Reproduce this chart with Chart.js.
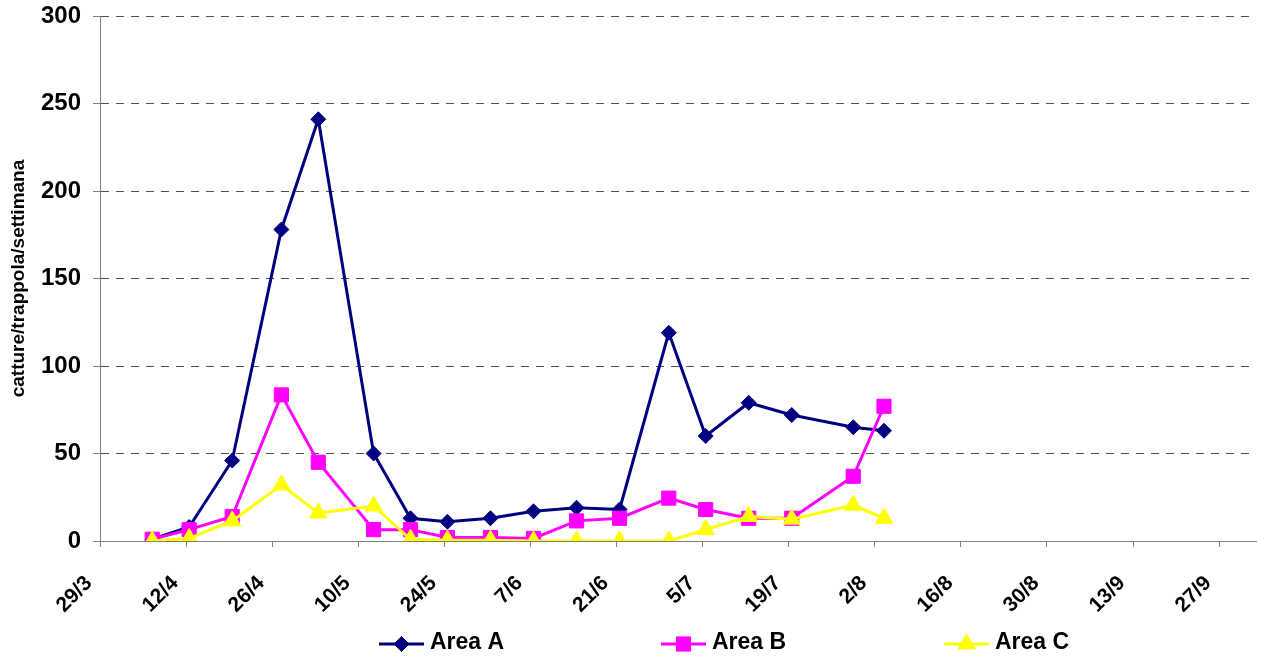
<!DOCTYPE html>
<html>
<head>
<meta charset="utf-8">
<script src="https://cdn.jsdelivr.net/npm/chart.js@4.4.1/dist/chart.umd.min.js"></script>
<style>
  html, body { margin: 0; padding: 0; background: #fff; }
</style>
</head>
<body>
<canvas id="chart" width="1267" height="659"></canvas>
<script>
// ------------------------------------------------------------------
// Dati (catture per trappola per settimana)
// ------------------------------------------------------------------
const START_DATE = '29/3';          // origine dell'asse x
const AXIS_DAYS  = 188;             // estensione dell'asse (giorni)
const TICK_STEP  = 14;              // un'etichetta ogni due settimane

const dates = ['6/4', '12/4', '19/4', '27/4', '3/5', '12/5', '18/5', '24/5', '31/5',
               '7/6', '14/6', '21/6', '29/6', '5/7', '12/7', '19/7', '29/7', '3/8'];

const areaA = [1, 8, 46, 178, 241, 50, 13, 11, 13, 17, 19, 18, 119, 60, 79, 72, 65, 63];
const areaB = [1, 6.5, 14, 83.5, 45, 6.5, 6.5, 2, 2, 1.5, 11.5, 13, 24.5, 18, 13, 13, 37, 77];
const areaC = [0, 1.5, 11.5, 32, 16, 20, 1, 0.5, 0.5, 0, 0, 0, 0, 6.5, 14, 12.5, 20.5, 13];

const yTicks = [0, 50, 100, 150, 200, 250, 300];

// ------------------------------------------------------------------
// Date helpers: 'g/m' <-> giorni dall'origine
// ------------------------------------------------------------------
const YEAR = 2007;
const MS_DAY = 86400000;

function toDate(dm) {
  const [d, m] = dm.split('/').map(Number);
  return new Date(YEAR, m - 1, d);
}
const origin = toDate(START_DATE);

function dayOf(dm) {
  return Math.round((toDate(dm) - origin) / MS_DAY);
}
function labelOf(day) {
  const dt = new Date(origin.getTime() + Math.round(day) * MS_DAY);
  return dt.getDate() + '/' + (dt.getMonth() + 1);
}

// Excel centra il punto nel giorno: +0.5
function series(values) {
  return dates.map((d, i) => ({ x: dayOf(d) + 0.5, y: values[i] }));
}

const FONT = 'Arial, "Liberation Sans", sans-serif';

// Legenda in stile Excel (linea + marcatore + testo)
const excelLegend = {
  id: 'excelLegend',
  afterDraw(chart, args, opts) {
    const ctx = chart.ctx;
    ctx.save();
    chart.data.datasets.forEach((ds, i) => {
      const x = opts.x[i];
      const y = opts.y;
      ctx.strokeStyle = ds.borderColor;
      ctx.fillStyle = ds.backgroundColor;
      ctx.lineWidth = 3;
      ctx.beginPath();
      ctx.moveTo(x, y);
      ctx.lineTo(x + opts.lineLen, y);
      ctx.stroke();
      ctx.lineWidth = 1;
      Chart.helpers.drawPoint(ctx, {
        pointStyle: ds.pointStyle, radius: ds.pointRadius, rotation: 0, borderWidth: 1
      }, x + opts.lineLen / 2, y);
      ctx.fillStyle = '#000';
      ctx.font = 'bold 23px ' + FONT;
      ctx.textBaseline = 'middle';
      ctx.textAlign = 'left';
      ctx.fillText(ds.label, x + opts.lineLen + 6, opts.y - 1.5);
    });
    ctx.restore();
  }
};

new Chart(document.getElementById('chart'), {
  type: 'line',
  data: {
    datasets: [
      {
        label: 'Area A',
        data: series(areaA),
        borderColor: '#000080',
        backgroundColor: '#000080',
        pointStyle: 'rectRot',
        pointRadius: 7.5,
        order: 3,
      },
      {
        label: 'Area B',
        data: series(areaB),
        borderColor: '#FF00FF',
        backgroundColor: '#FF00FF',
        pointStyle: 'rect',
        pointRadius: 10,
        order: 2,
      },
      {
        label: 'Area C',
        data: series(areaC),
        borderColor: '#FFFF00',
        backgroundColor: '#FFFF00',
        pointStyle: 'triangle',
        pointRadius: 10,
        order: 1,
      },
    ],
  },
  options: {
    responsive: false,
    animation: false,
    events: [],
    elements: {
      line: { borderWidth: 3, tension: 0 },
      point: { borderWidth: 1 },
    },
    layout: { padding: { top: 16, right: 6, bottom: 38, left: 0 } },
    plugins: {
      legend: { display: false },
      tooltip: { enabled: false },
      excelLegend: { x: [379, 661, 944], y: 644, lineLen: 45 },
    },
    scales: {
      x: {
        type: 'linear',
        min: 0,
        max: AXIS_DAYS,
        afterFit: (s) => { s.height = 80; s.paddingLeft = 0; s.paddingRight = 0; },
        grid: { drawOnChartArea: false, drawTicks: true, tickLength: 6, color: '#808080' },
        border: { color: '#808080', width: 1 },
        ticks: {
          stepSize: TICK_STEP,
          includeBounds: false,
          autoSkip: false,
          maxRotation: 45,
          minRotation: 45,
          padding: 24,
          labelOffset: -11,
          color: '#000',
          font: { family: FONT, size: 21, weight: 'bold' },
          callback: (v) => labelOf(v),
        },
      },
      y: {
        min: 0,
        max: 300,
        afterFit: (s) => { s.width = 100; s.paddingTop = 0; s.paddingBottom = 0; },
        afterBuildTicks: (s) => { s.ticks = yTicks.map(v => ({ value: v })); },
        grid: { color: '#505050', tickColor: '#808080', tickLength: 7, lineWidth: 1 },
        border: { color: '#808080', width: 1, dash: [8, 7] },
        ticks: {
          padding: 12,
          color: '#000',
          font: { family: FONT, size: 24, weight: 'bold' },
        },
        title: {
          display: true,
          text: 'catture/trappola/settimana',
          color: '#000',
          font: { family: FONT, size: 19, weight: 'bold' },
          padding: { top: 7, bottom: 0 },
        },
      },
    },
  },
  plugins: [excelLegend],
});
</script>
</body>
</html>
